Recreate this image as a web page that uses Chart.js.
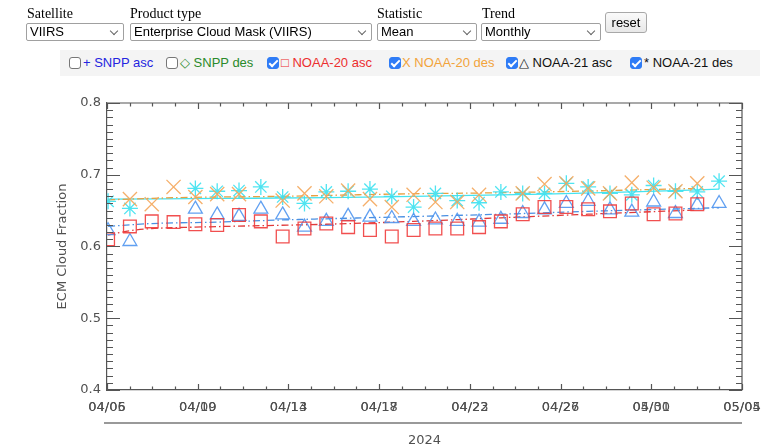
<!DOCTYPE html>
<html>
<head>
<meta charset="utf-8">
<script src="https://cdn.jsdelivr.net/npm/chart.js@4/dist/chart.umd.min.js"></script>
<style>
  html, body { margin: 0; padding: 0; background: #fff; }
  body { width: 773px; height: 448px; position: relative; overflow: hidden; }
  #plot { position: absolute; left: 0; top: 0; }
  .ctl-label { position: absolute; top: 6px; font: 14px "Liberation Serif", "Times New Roman", serif; color: #000; }
  .sel {
    position: absolute; top: 23px; height: 18px; box-sizing: border-box;
    border: 1px solid #a0a0a0; border-radius: 2px; background: #fff;
    font: 13px "Liberation Sans", Arial, sans-serif; color: #000;
    line-height: 16px; padding-left: 3px; white-space: nowrap; overflow: hidden;
  }
  .sel::after {
    content: ""; position: absolute; right: 6px; top: 4px; width: 5px; height: 5px;
    border-right: 1px solid #666; border-bottom: 1px solid #666; transform: rotate(45deg);
  }
  #reset {
    position: absolute; left: 605px; top: 12px; width: 42px; height: 21px; box-sizing: border-box;
    border: 1px solid #a8a8a8; border-radius: 3px; background: linear-gradient(#fafafa, #e8e8e8);
    font: 13px "Liberation Sans", Arial, sans-serif; text-align: center; line-height: 19px; color: #000;
  }
  #legend {
    position: absolute; left: 60px; top: 50px; width: 700px; height: 26px; background: #f4f4f4;
  }
  .cb {
    position: absolute; top: 7px; width: 12px; height: 12px; box-sizing: border-box;
    border: 1px solid #777; border-radius: 3px; background: #fff;
  }
  .cb.on { background: #2f7cf6; border-color: #2f7cf6; }
  .cb.on::after {
    content: ""; position: absolute; left: 3px; top: 0px; width: 3px; height: 7px;
    border-right: 2px solid #fff; border-bottom: 2px solid #fff; transform: rotate(45deg);
  }
  .lg { position: absolute; top: 5px; font: 13px "Liberation Sans", Arial, sans-serif; white-space: nowrap; }
</style>
</head>
<body>
<canvas id="plot" width="773" height="448"></canvas>

<div class="ctl-label" style="left:27px">Satellite</div>
<div class="sel" style="left:26px;width:98px">VIIRS</div>
<div class="ctl-label" style="left:130px">Product type</div>
<div class="sel" style="left:130px;width:242px">Enterprise Cloud Mask (VIIRS)</div>
<div class="ctl-label" style="left:377px">Statistic</div>
<div class="sel" style="left:377px;width:100px">Mean</div>
<div class="ctl-label" style="left:482px">Trend</div>
<div class="sel" style="left:481px;width:120px">Monthly</div>
<div id="reset">reset</div>

<div id="legend">
  <div class="cb" style="left:9px"></div><div class="lg" style="left:23px;color:#2424e0">+ SNPP asc</div>
  <div class="cb" style="left:106px"></div><div class="lg" style="left:120px;color:#2a8a2a">&#9671; SNPP des</div>
  <div class="cb on" style="left:207px"></div><div class="lg" style="left:221px;color:#ec2e2e">&#9633; NOAA-20 asc</div>
  <div class="cb on" style="left:329px"></div><div class="lg" style="left:342px;color:#f2a33a">X NOAA-20 des</div>
  <div class="cb on" style="left:446px"></div><div class="lg" style="left:459px;color:#111">&#9651; NOAA-21 asc</div>
  <div class="cb on" style="left:570px"></div><div class="lg" style="left:584px;color:#111">* NOAA-21 des</div>
</div>

<script>
// Daily means of the ECM cloud fraction, day 0 = first day shown
const dayIndex = [0, 1, 2, 3, 4, 5, 6, 7, 8, 9, 10, 11, 12, 13, 14, 15, 16, 17, 18, 19, 20, 21, 22, 23, 24, 25, 26, 27, 28];

const noaa20Asc = [0.610, 0.628, 0.635, 0.634, 0.631, 0.630, 0.644, 0.635, 0.614, 0.625,
                   0.632, 0.627, 0.623, 0.614, 0.623, 0.625, 0.625, 0.627, 0.635, 0.645,
                   0.655, 0.655, 0.652, 0.649, 0.660, 0.645, 0.646, 0.659];
const noaa20Des = [null, 0.666, 0.659, 0.683, 0.669, 0.673, 0.673, null, 0.664, 0.674,
                   0.670, 0.678, 0.666, 0.655, 0.672, 0.662, 0.662, 0.672, null, 0.674,
                   0.687, 0.688, 0.681, 0.674, 0.689, 0.682, 0.677, 0.688];
const noaa21Asc = [0.622, 0.607, null, null, 0.652, 0.644, 0.642, 0.652, 0.644, 0.627,
                   0.635, 0.642, 0.641, 0.639, 0.635, 0.637, 0.635, 0.634, 0.638, 0.646,
                   0.651, 0.660, 0.663, 0.651, 0.648, 0.662, 0.646, 0.658, 0.660];
const noaa21Des = [0.663, 0.653, null, null, 0.681, 0.677, 0.678, 0.683, 0.669, 0.660,
                   0.676, 0.677, 0.680, 0.670, 0.655, 0.674, 0.664, 0.661, 0.676, 0.674,
                   0.674, 0.688, 0.683, 0.674, 0.672, 0.685, 0.677, 0.676, 0.691];

// Monthly trend curves (day, value)
const trend20AscDays = [0, 1, 2, 4, 7, 10, 14, 18, 22, 27];
const trend20AscVals = [0.616, 0.622, 0.625, 0.627, 0.629, 0.631, 0.635, 0.640, 0.645, 0.651];
const trend20DesDays = [0, 3, 8, 13, 18, 23, 27];
const trend20DesVals = [0.665, 0.668, 0.670, 0.673, 0.675, 0.678, 0.681];
const trend21AscDays = [0, 2, 5, 8, 13, 18, 22, 28];
const trend21AscVals = [0.628, 0.632, 0.634, 0.637, 0.641, 0.645, 0.649, 0.654];
const trend21DesDays = [0, 5, 10, 14, 20, 24, 28];
const trend21DesVals = [0.666, 0.667, 0.668, 0.670, 0.673, 0.676, 0.680];

// Date axis: two overprinted label sets sharing the same tick marks
const tickLabelsA = ['04/05', '04/09', '04/13', '04/17', '04/22', '04/26', '04/30', '05/04'];
const tickLabelsB = ['04/06', '04/10', '04/14', '04/18', '04/23', '04/27', '05/01', '05/05'];
const yTickValues = [0.4, 0.5, 0.6, 0.7, 0.8];
const yearLabel = '2024';
const yTitle = 'ECM Cloud Fraction';

const X_MIN = -0.05, X_MAX = 29.05;
const AXIS_COLOR = '#555';
const TEXT_COLOR = '#505050';
const AXIS_FONT = { family: 'DejaVu Sans', size: 13 };

const pts = (xs, ys) => xs.map((x, i) => ({ x: x, y: ys[i] })).filter(p => p.y !== null && p.y !== undefined);

const markerSet = (label, ys, style, color, radius) => ({
  label, data: pts(dayIndex, ys), showLine: false, clip: 0,
  pointStyle: style, pointRadius: radius, pointHoverRadius: radius,
  pointBorderColor: color, pointBackgroundColor: 'rgba(0,0,0,0)', pointBorderWidth: 1.3
});
const trendSet = (label, xs, ys, color, dash) => ({
  label, data: pts(xs, ys), showLine: true, pointRadius: 0, clip: 0,
  borderColor: color, borderWidth: 1.3, borderDash: dash, cubicInterpolationMode: 'monotone', fill: false
});

const DASH_DOT = [7, 3, 1.5, 3];

// Inward tick marks, top/right frame, second label set, and the year rule
const framePlugin = {
  id: 'idlFrame',
  afterDraw(chart) {
    const { ctx, chartArea: a, scales: { x, y } } = chart;
    ctx.save();
    ctx.strokeStyle = AXIS_COLOR;
    ctx.lineWidth = 1.2;
    ctx.beginPath();
    ctx.moveTo(a.left, a.top); ctx.lineTo(a.right, a.top); ctx.lineTo(a.right, a.bottom);
    // y ticks: major every 0.1, minor every 0.01
    for (let k = 0; k <= 40; k++) {
      const v = 0.4 + k * 0.01;
      const py = Math.round(y.getPixelForValue(v)) + 0.5;
      const len = (k % 10 === 0) ? 13 : 6;
      ctx.moveTo(a.left, py); ctx.lineTo(a.left + len, py);
      ctx.moveTo(a.right, py); ctx.lineTo(a.right - len, py);
    }
    // x ticks: 4 sub-intervals per labelled interval
    const nMaj = tickLabelsA.length - 1;
    for (let k = 0; k <= nMaj * 4; k++) {
      const v = X_MIN + k * (X_MAX - X_MIN) / (nMaj * 4);
      const px = Math.round(x.getPixelForValue(v)) + 0.5;
      const len = (k % 4 === 0) ? 6 : 3.5;
      ctx.moveTo(px, a.bottom); ctx.lineTo(px, a.bottom - len);
      ctx.moveTo(px, a.top); ctx.lineTo(px, a.top + len);
    }
    ctx.stroke();

    // overprinted second date label set
    ctx.fillStyle = TEXT_COLOR;
    ctx.font = AXIS_FONT.size + 'px "' + AXIS_FONT.family + '"';
    ctx.textAlign = 'center';
    ctx.textBaseline = 'middle';
    const padTop = chart.options.scales.x.ticks.padding;
    const ly = x.top + padTop + AXIS_FONT.size * 1.2 / 2;
    x.ticks.forEach((t, i) => {
      ctx.fillText(tickLabelsB[i], x.getPixelForValue(t.value), ly);
    });

    // rule above the year
    ctx.strokeStyle = '#777';
    ctx.lineWidth = 1.5;
    ctx.beginPath();
    ctx.moveTo(a.left - 3, 423); ctx.lineTo(a.right, 423);
    ctx.stroke();
    ctx.restore();
  }
};

new Chart(document.getElementById('plot'), {
  type: 'scatter',
  data: {
    datasets: [
      markerSet('NOAA-20 asc', noaa20Asc, 'rect', 'rgba(240,60,60,0.9)', 9),
      markerSet('NOAA-21 asc', noaa21Asc, 'triangle', 'rgba(80,150,240,0.9)', 8),
      markerSet('NOAA-20 des', noaa20Des, 'crossRot', 'rgba(244,166,90,0.9)', 10),
      markerSet('NOAA-21 des', noaa21Des, 'star', 'rgba(60,225,240,0.9)', 8),
      trendSet('NOAA-20 asc trend', trend20AscDays, trend20AscVals, '#e03a3a', DASH_DOT),
      trendSet('NOAA-21 asc trend', trend21AscDays, trend21AscVals, '#4a90e2', DASH_DOT),
      trendSet('NOAA-20 des trend', trend20DesDays, trend20DesVals, '#e8a040', DASH_DOT),
      trendSet('NOAA-21 des trend', trend21DesDays, trend21DesVals, '#45e3ef', [])
    ]
  },
  options: {
    responsive: false,
    animation: false,
    devicePixelRatio: 1,
    layout: { padding: { top: 103, right: 31, left: 0, bottom: 0 } },
    plugins: { legend: { display: false }, tooltip: { enabled: false } },
    scales: {
      x: {
        type: 'linear', position: 'bottom', min: X_MIN, max: X_MAX,
        afterFit: s => { s.height = 58; },
        afterBuildTicks: s => {
          const n = tickLabelsA.length - 1;
          s.ticks = tickLabelsA.map((_, i) => ({ value: X_MIN + i * (X_MAX - X_MIN) / n }));
        },
        grid: { display: false, drawTicks: false },
        border: { display: true, color: AXIS_COLOR, width: 1.2 },
        ticks: {
          padding: 10, color: TEXT_COLOR, font: AXIS_FONT, maxRotation: 0, autoSkip: false,
          callback: (v, i) => tickLabelsA[i]
        },
        title: { display: true, text: yearLabel, color: TEXT_COLOR, font: { family: 'DejaVu Sans', size: 13 }, padding: { top: 0, bottom: 0 } }
      },
      y: {
        type: 'linear', min: 0.4, max: 0.8,
        afterFit: s => { s.width = 107; },
        afterBuildTicks: s => { s.ticks = yTickValues.map(v => ({ value: v })); },
        grid: { display: false, drawTicks: false },
        border: { display: true, color: AXIS_COLOR, width: 1.2 },
        ticks: { padding: 6, color: TEXT_COLOR, font: AXIS_FONT, callback: v => v.toFixed(1) },
        title: { display: true, text: yTitle, color: TEXT_COLOR, font: { family: 'DejaVu Sans', size: 13 }, padding: { top: 55, bottom: 0 } }
      }
    }
  },
  plugins: [framePlugin]
});
</script>
</body>
</html>
